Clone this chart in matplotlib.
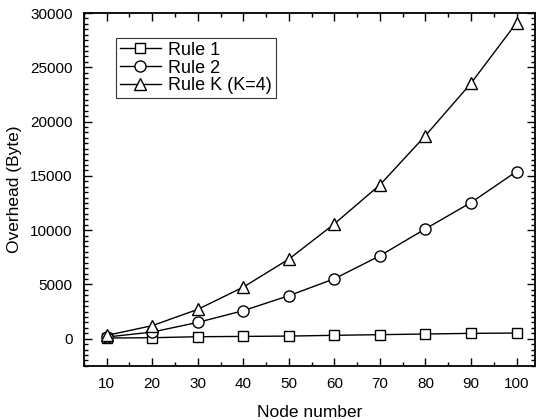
import matplotlib
matplotlib.use("Agg")
import matplotlib.pyplot as plt
from matplotlib.ticker import MultipleLocator

plt.rcParams['font.family'] = ['Liberation Sans', 'DejaVu Sans']

nodes = [10, 20, 30, 40, 50, 60, 70, 80, 90, 100]
rule1 = [60, 90, 180, 210, 240, 310, 370, 430, 490, 520]
rule2 = [150, 610, 1500, 2580, 3960, 5520, 7640, 10120, 12540, 15400]
ruleK = [300, 1200, 2700, 4750, 7330, 10580, 14170, 18710, 23530, 29100]
labels = ["Rule 1", "Rule 2", "Rule K (K=4)"]

fig = plt.figure(figsize=(5.38, 4.2), dpi=100)
ax = fig.add_axes([0.156, 0.129, 0.838, 0.840])

ax.plot(nodes, rule1, color='black', lw=1, marker='s', ms=7, mfc='white', mec='black', mew=1, label=labels[0])
ax.plot(nodes, rule2, color='black', lw=1, marker='o', ms=8, mfc='white', mec='black', mew=1, label=labels[1])
ax.plot(nodes, ruleK, color='black', lw=1, marker='^', ms=9, mfc='white', mec='black', mew=1, label=labels[2])

ax.set_xlim(5, 104)
ax.set_ylim(-2500, 30000)
ax.xaxis.set_major_locator(MultipleLocator(10))
ax.xaxis.set_minor_locator(MultipleLocator(5))
ax.yaxis.set_major_locator(MultipleLocator(5000))
ax.yaxis.set_minor_locator(MultipleLocator(500))
ax.tick_params(which='both', direction='in', top=True, right=True, labelsize=11, width=1)
ax.tick_params(which='major', length=6, pad=8)
ax.tick_params(which='minor', length=3)
for s in ax.spines.values():
    s.set_linewidth(1.3)

ax.set_xlabel("Node number", fontsize=12.5, labelpad=10)
ax.set_ylabel("Overhead (Byte)", fontsize=12.5, labelpad=6)

leg = ax.legend(loc='upper left', bbox_to_anchor=(0.071, 0.929), fontsize=13, frameon=True,
                fancybox=False, edgecolor='black', handlelength=2.3, handletextpad=0.4,
                labelspacing=0.05, borderpad=0.2, borderaxespad=0)
leg.get_frame().set_linewidth(0.8)

fig.savefig("out.png", dpi=100)
